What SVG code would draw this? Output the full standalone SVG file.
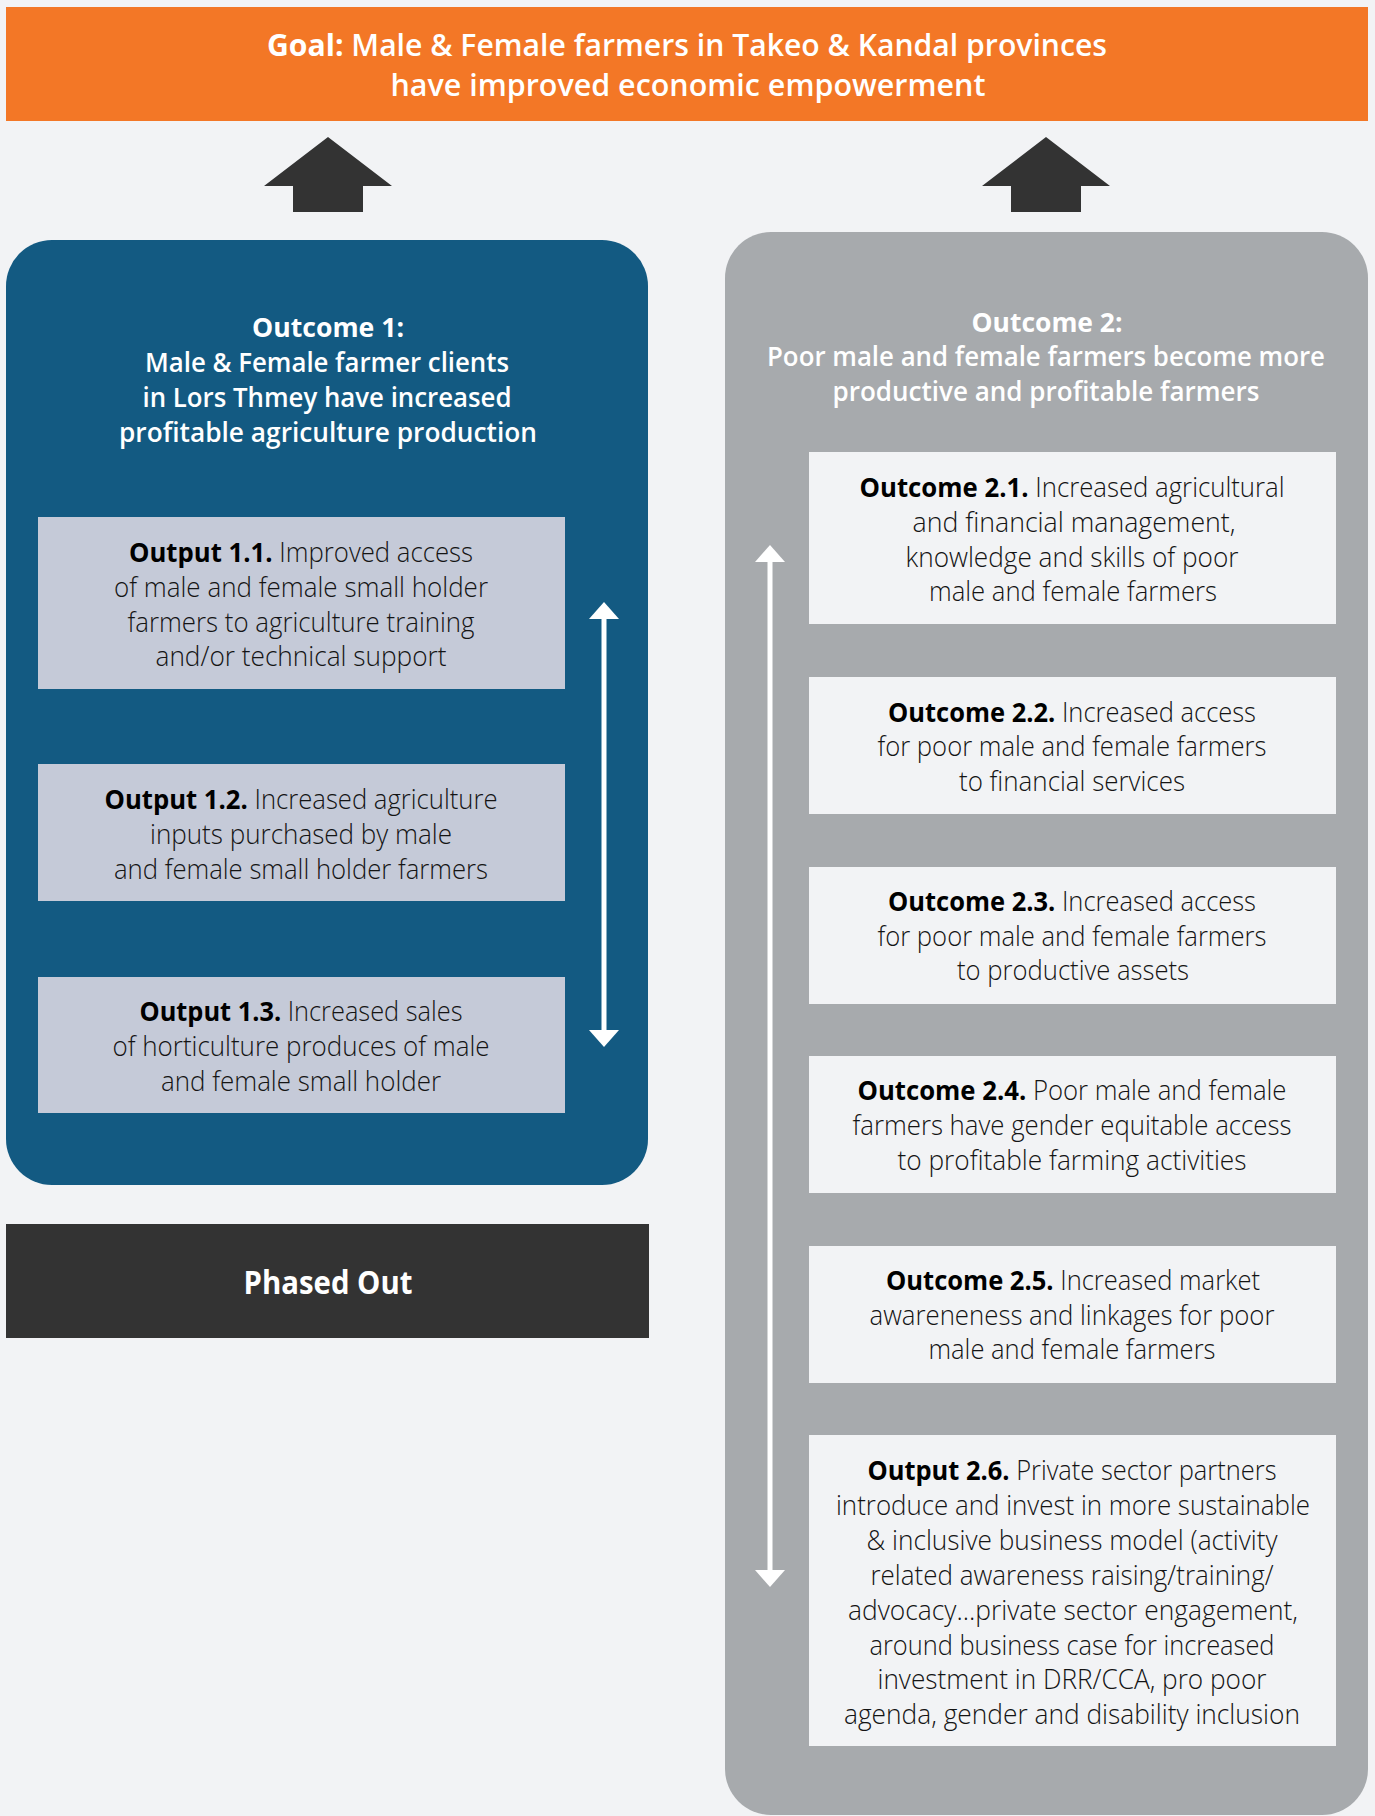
<svg xmlns="http://www.w3.org/2000/svg" width="1375" height="1816" viewBox="0 0 1375 1816">
<defs>
<style>
text{font-family:"Open Sans","Noto Sans","Liberation Sans",sans-serif;text-anchor:middle}
.goal{font-size:31px;fill:#fff;font-weight:600}
.head{font-size:27px;fill:#fff;font-weight:600}
.body{font-size:27px;fill:#141414;font-weight:300}
.b{font-weight:700;fill:#000}
.bw{font-weight:700}
.out1{fill:#C5CAD8}
.out2{fill:#F2F3F5}
.dbl{stroke:#fff;stroke-width:5;fill:none;marker-start:url(#ah);marker-end:url(#ah)}
.blk{fill:#333333}
</style>
<marker id="ah" viewBox="0 0 17 30" refX="7" refY="15" markerWidth="17" markerHeight="30" markerUnits="userSpaceOnUse" orient="auto-start-reverse">
<path d="M0,0 L17,15 L0,30 Z" fill="#fff"/>
</marker>
</defs>
<rect width="1375" height="1816" fill="#F2F3F5"/>

<g id="goal">
<rect x="6" y="7" width="1362" height="114" fill="#F37726"/>
<text class="goal" x="687" y="56" textLength="840" lengthAdjust="spacingAndGlyphs"><tspan class="bw">Goal:</tspan> Male &amp; Female farmers in Takeo &amp; Kandal provinces</text>
<text class="goal" x="688" y="96" textLength="595" lengthAdjust="spacingAndGlyphs">have improved economic empowerment</text>
</g>

<g id="outcome1">
<rect x="6" y="240" width="642" height="945" rx="46" fill="#135A82"/>
<text class="head bw" x="328" y="337" textLength="152" lengthAdjust="spacingAndGlyphs">Outcome 1:</text>
<text class="head" x="327" y="372" textLength="364" lengthAdjust="spacingAndGlyphs">Male &amp; Female farmer clients</text>
<text class="head" x="327" y="407" textLength="369" lengthAdjust="spacingAndGlyphs">in Lors Thmey have increased</text>
<text class="head" x="328" y="442" textLength="418" lengthAdjust="spacingAndGlyphs">profitable agriculture production</text>
</g>

<g id="output11">
<rect class="out1" x="38" y="517" width="527" height="172"/>
<text class="body" x="301" y="562" textLength="344" lengthAdjust="spacingAndGlyphs"><tspan class="b">Output 1.1.</tspan> Improved access</text>
<text class="body" x="301" y="597" textLength="374" lengthAdjust="spacingAndGlyphs">of male and female small holder</text>
<text class="body" x="301" y="632" textLength="347" lengthAdjust="spacingAndGlyphs">farmers to agriculture training</text>
<text class="body" x="301" y="666" textLength="291" lengthAdjust="spacingAndGlyphs">and/or technical support</text>
</g>

<g id="output12">
<rect class="out1" x="38" y="764" width="527" height="137"/>
<text class="body" x="301" y="809" textLength="393" lengthAdjust="spacingAndGlyphs"><tspan class="b">Output 1.2.</tspan> Increased agriculture</text>
<text class="body" x="301" y="844" textLength="302" lengthAdjust="spacingAndGlyphs">inputs purchased by male</text>
<text class="body" x="301" y="879" textLength="374" lengthAdjust="spacingAndGlyphs">and female small holder farmers</text>
</g>

<g id="output13">
<rect class="out1" x="38" y="977" width="527" height="136"/>
<text class="body" x="301" y="1021" textLength="323" lengthAdjust="spacingAndGlyphs"><tspan class="b">Output 1.3.</tspan> Increased sales</text>
<text class="body" x="301" y="1056" textLength="377" lengthAdjust="spacingAndGlyphs">of horticulture produces of male</text>
<text class="body" x="301" y="1091" textLength="280" lengthAdjust="spacingAndGlyphs">and female small holder</text>
</g>

<g id="phased-out">
<rect x="6" y="1224" width="643" height="114" fill="#333333"/>
<text class="bw" x="328" y="1294" font-size="32" fill="#fff" textLength="169" lengthAdjust="spacingAndGlyphs">Phased Out</text>
</g>

<g id="outcome2">
<rect x="725" y="232" width="643" height="1583" rx="46" fill="#A7AAAD"/>
<text class="head bw" x="1047" y="332" textLength="151" lengthAdjust="spacingAndGlyphs">Outcome 2:</text>
<text class="head" x="1046" y="366" textLength="558" lengthAdjust="spacingAndGlyphs">Poor male and female farmers become more</text>
<text class="head" x="1046" y="401" textLength="427" lengthAdjust="spacingAndGlyphs">productive and profitable farmers</text>
</g>

<g id="outcome21">
<rect class="out2" x="809" y="452" width="527" height="172"/>
<text class="body" x="1072" y="497" textLength="425" lengthAdjust="spacingAndGlyphs"><tspan class="b">Outcome 2.1.</tspan> Increased agricultural</text>
<text class="body" x="1074" y="532" textLength="323" lengthAdjust="spacingAndGlyphs">and financial management,</text>
<text class="body" x="1072" y="567" textLength="333" lengthAdjust="spacingAndGlyphs">knowledge and skills of poor</text>
<text class="body" x="1073" y="601" textLength="288" lengthAdjust="spacingAndGlyphs">male and female farmers</text>
</g>

<g id="outcome22">
<rect class="out2" x="809" y="677" width="527" height="137"/>
<text class="body" x="1072" y="722" textLength="368" lengthAdjust="spacingAndGlyphs"><tspan class="b">Outcome 2.2.</tspan> Increased access</text>
<text class="body" x="1072" y="756" textLength="389" lengthAdjust="spacingAndGlyphs">for poor male and female farmers</text>
<text class="body" x="1072" y="791" textLength="226" lengthAdjust="spacingAndGlyphs">to financial services</text>
</g>

<g id="outcome23">
<rect class="out2" x="809" y="867" width="527" height="137"/>
<text class="body" x="1072" y="911" textLength="368" lengthAdjust="spacingAndGlyphs"><tspan class="b">Outcome 2.3.</tspan> Increased access</text>
<text class="body" x="1072" y="946" textLength="389" lengthAdjust="spacingAndGlyphs">for poor male and female farmers</text>
<text class="body" x="1073" y="980" textLength="232" lengthAdjust="spacingAndGlyphs">to productive assets</text>
</g>

<g id="outcome24">
<rect class="out2" x="809" y="1056" width="527" height="137"/>
<text class="body" x="1072" y="1100" textLength="429" lengthAdjust="spacingAndGlyphs"><tspan class="b">Outcome 2.4.</tspan> Poor male and female</text>
<text class="body" x="1072" y="1135" textLength="439" lengthAdjust="spacingAndGlyphs">farmers have gender equitable access</text>
<text class="body" x="1072" y="1170" textLength="349" lengthAdjust="spacingAndGlyphs">to profitable farming activities</text>
</g>

<g id="outcome25">
<rect class="out2" x="809" y="1246" width="527" height="137"/>
<text class="body" x="1073" y="1290" textLength="374" lengthAdjust="spacingAndGlyphs"><tspan class="b">Outcome 2.5.</tspan> Increased market</text>
<text class="body" x="1072" y="1325" textLength="405" lengthAdjust="spacingAndGlyphs">awareneness and linkages for poor</text>
<text class="body" x="1072" y="1359" textLength="287" lengthAdjust="spacingAndGlyphs">male and female farmers</text>
</g>

<g id="output26">
<rect class="out2" x="809" y="1435" width="527" height="311"/>
<text class="body" x="1072" y="1480" textLength="409" lengthAdjust="spacingAndGlyphs"><tspan class="b">Output 2.6.</tspan> Private sector partners</text>
<text class="body" x="1073" y="1515" textLength="474" lengthAdjust="spacingAndGlyphs">introduce and invest in more sustainable</text>
<text class="body" x="1072" y="1550" textLength="411" lengthAdjust="spacingAndGlyphs">&amp; inclusive business model (activity</text>
<text class="body" x="1072" y="1585" textLength="403" lengthAdjust="spacingAndGlyphs">related awareness raising/training/</text>
<text class="body" x="1073" y="1620" textLength="450" lengthAdjust="spacingAndGlyphs">advocacy...private sector engagement,</text>
<text class="body" x="1072" y="1655" textLength="405" lengthAdjust="spacingAndGlyphs">around business case for increased</text>
<text class="body" x="1072" y="1689" textLength="389" lengthAdjust="spacingAndGlyphs">investment in DRR/CCA, pro poor</text>
<text class="body" x="1072" y="1724" textLength="456" lengthAdjust="spacingAndGlyphs">agenda, gender and disability inclusion</text>
</g>

<g id="connectors">
<polygon class="blk" points="328,137 264,186 293,186 293,212 363,212 363,186 392,186"/>
<polygon class="blk" points="1046,137 982,186 1011,186 1011,212 1081,212 1081,186 1110,186"/>
<line class="dbl" x1="604" y1="612" x2="604" y2="1037"/>
<line class="dbl" x1="770" y1="555" x2="770" y2="1577"/>
</g>
</svg>
